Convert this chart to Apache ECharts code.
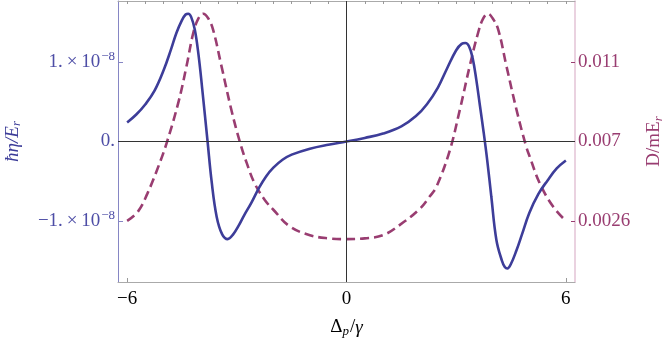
<!DOCTYPE html>
<html>
<head>
<meta charset="utf-8">
<script src="https://cdn.jsdelivr.net/npm/echarts@6/dist/echarts.min.js"></script>
<style>
  html, body { margin: 0; padding: 0; background: #fff; }
  #chart { width: 664px; height: 340px; }
</style>
</head>
<body>
<div id="chart"></div>
<script>
// eta (left axis)
const etaX = [-6.0, -5.75, -5.5, -5.25, -5.0, -4.8, -4.65, -4.5, -4.4, -4.33, -4.25, -4.15, -4.05, -3.95, -3.8, -3.69, -3.55, -3.4, -3.25, -3.1, -2.95, -2.8, -2.6, -2.4, -2.2, -2.0, -1.75, -1.5, -1.0, -0.5, 0,
  0.5, 1.0, 1.5, 1.9, 2.2, 2.5, 2.75, 3.0, 3.15, 3.25, 3.35, 3.45, 3.55, 3.65, 3.75, 3.85, 3.96, 4.1, 4.25, 4.33, 4.4, 4.5, 4.65, 4.8, 5.0, 5.25, 5.5, 5.75, 6.0];
const etaY = [0.24e-8, 0.34e-8, 0.47e-8, 0.64e-8, 0.90e-8, 1.16e-8, 1.37e-8, 1.53e-8, 1.60e-8, 1.61e-8, 1.57e-8, 1.41e-8, 1.10e-8, 0.68e-8, 0.0, -0.50e-8, -0.95e-8, -1.17e-8, -1.23e-8, -1.17e-8, -1.06e-8, -0.93e-8, -0.77e-8, -0.59e-8, -0.44e-8, -0.33e-8, -0.23e-8, -0.165e-8, -0.09e-8, -0.04e-8, 0,
  0.045e-8, 0.10e-8, 0.19e-8, 0.32e-8, 0.47e-8, 0.68e-8, 0.92e-8, 1.15e-8, 1.23e-8, 1.24e-8, 1.20e-8, 1.05e-8, 0.78e-8, 0.45e-8, 0.12e-8, -0.24e-8, -0.69e-8, -1.24e-8, -1.50e-8, -1.58e-8, -1.60e-8, -1.54e-8, -1.37e-8, -1.17e-8, -0.90e-8, -0.66e-8, -0.49e-8, -0.34e-8, -0.24e-8];

// D (right axis)
const dX = [-6.0, -5.7, -5.45, -5.15, -4.92, -4.6, -4.375, -4.19, -4.05, -3.92, -3.78, -3.65, -3.42, -3.15, -2.92, -2.73, -2.51, -2.23, -2.0, -1.55, -1.0, -0.5, 0,
  0.5, 1.0, 1.46, 2.0, 2.28, 2.46, 2.82, 3.1, 3.37, 3.6, 3.74, 3.87, 4.0, 4.15, 4.375, 4.65, 4.9, 5.01, 5.29, 5.65, 6.0];
const dY = [0.003, 0.00348, 0.00436, 0.00572, 0.00692, 0.00896, 0.0108, 0.01248, 0.0132, 0.01344, 0.0132, 0.01264, 0.0108, 0.0086, 0.007, 0.00592, 0.00488, 0.00404, 0.00356, 0.00272, 0.00228, 0.00212, 0.00208,
  0.00212, 0.00228, 0.0028, 0.0036, 0.00424, 0.00472, 0.00652, 0.0086, 0.0108, 0.01248, 0.0132, 0.01344, 0.0132, 0.01264, 0.0108, 0.0086, 0.00684, 0.00624, 0.00488, 0.00372, 0.003];

const xTicks = [-6, 0, 6];
const xMinorTicks = [-6, -5.5, -5, -4.5, -4, -3.5, -3, -2.5, -2, -1.5, -1, -0.5, 0, 0.5, 1, 1.5, 2, 2.5, 3, 3.5, 4, 4.5, 5, 5.5, 6];
const leftTicks = [-1e-8, 0, 1e-8];
const leftTickMant = ['\u22121.\u2009\u00d7\u200910', '0.', '1.\u2009\u00d7\u200910'];
const leftTickExp = ['\u22128', '', '\u22128'];
const rightTicks = [0.003, 0.007, 0.011];
const rightTickLabels = ['0.0026', '0.007', '0.011'];

const serif = 'Liberation Serif';
const blue = '#3d3d99';
const plum = '#993d71';

const chart = echarts.init(document.getElementById('chart'));

function pairs(xs, ys) {
  return xs.map((x, i) => [x, ys[i]]);
}

chart.setOption({
  animation: false,
  grid: { left: 118, right: 89, top: 1, bottom: 58, outerBoundsMode: 'none', containLabel: false },
  xAxis: [
    {
      type: 'value',
      min: -6.25,
      max: 6.25,
      name: '{d|\u0394}{s|p}{d|/}{i|\u03b3}',
      nameLocation: 'middle',
      nameGap: 36,
      nameTextStyle: {
        rich: {
          d: { fontFamily: serif, fontSize: 19, color: '#000' },
          i: { fontFamily: serif, fontSize: 19, fontStyle: 'italic', color: '#000' },
          s: { fontFamily: serif, fontSize: 13, fontStyle: 'italic', color: '#000', padding: [0, 1, -8, 0] }
        }
      },
      axisLine: { onZero: false, lineStyle: { color: '#aaaaaa', width: 1 } },
      axisTick: { inside: true, length: 4, customValues: xTicks, lineStyle: { color: '#999999' } },
      axisLabel: {
        customValues: xTicks,
        fontFamily: serif, fontSize: 19, color: '#000', margin: 8,
        formatter: v => String(v).replace('-', '\u2212')
      },
      splitLine: { show: false }
    },
    {
      type: 'value',
      position: 'top',
      min: -6.25,
      max: 6.25,
      axisLine: { onZero: false, lineStyle: { color: '#aaaaaa', width: 1 } },
      axisTick: { inside: true, length: 3, customValues: xMinorTicks, lineStyle: { color: '#999999' } },
      axisLabel: { show: false },
      splitLine: { show: false }
    }
  ],
  yAxis: [
    {
      type: 'value',
      min: -1.77e-8,
      max: 1.77e-8,
      name: '{i|\u0127\u03b7/E}{s|r}',
      nameLocation: 'middle',
      nameRotate: 90,
      nameGap: 96,
      nameTextStyle: {
        rich: {
          i: { fontFamily: serif, fontSize: 19, fontStyle: 'italic', color: blue },
          s: { fontFamily: serif, fontSize: 13, fontStyle: 'italic', color: blue, padding: [0, 0, -8, 0] }
        }
      },
      axisLine: { onZero: false, lineStyle: { color: '#8686c4', width: 1 } },
      axisTick: { inside: true, length: 5, customValues: leftTicks, lineStyle: { color: '#8686c4' } },
      axisLabel: {
        customValues: leftTicks,
        margin: 3,
        formatter: v => {
          const i = leftTicks.findIndex(t => Math.abs(t - v) < 1e-12);
          if (i < 0) return '';
          return leftTickExp[i] ? '{m|' + leftTickMant[i] + '}{e|' + leftTickExp[i] + '}' : '{m|' + leftTickMant[i] + '}';
        },
        rich: {
          m: { fontFamily: serif, fontSize: 19, color: '#4d4da6' },
          e: { fontFamily: serif, fontSize: 13, color: '#4d4da6', padding: [0, 0, 11, 1] }
        }
      },
      splitLine: { show: false }
    },
    {
      type: 'value',
      position: 'right',
      min: -0.00008,
      max: 0.01408,
      name: '{d|D/mE}{s|r}',
      nameLocation: 'middle',
      nameRotate: 90,
      nameGap: 70,
      nameTextStyle: {
        rich: {
          d: { fontFamily: serif, fontSize: 19, color: plum },
          s: { fontFamily: serif, fontSize: 13, fontStyle: 'italic', color: plum, padding: [0, 0, -8, 0] }
        }
      },
      axisLine: { onZero: false, lineStyle: { color: '#e3c3d6', width: 1.5 } },
      axisTick: { inside: true, length: 4, customValues: rightTicks, lineStyle: { color: plum } },
      axisLabel: {
        customValues: rightTicks,
        fontFamily: serif, fontSize: 19, color: plum, margin: 3,
        formatter: v => {
          const i = rightTicks.findIndex(t => Math.abs(t - v) < 1e-9);
          return i < 0 ? '' : rightTickLabels[i];
        }
      },
      splitLine: { show: false }
    }
  ],
  series: [
    {
      type: 'line',
      xAxisIndex: 0,
      yAxisIndex: 1,
      data: pairs(dX, dY),
      smooth: 0.4,
      showSymbol: false,
      lineStyle: { color: plum, width: 2.6, type: [9, 5] },
      z: 3
    },
    {
      type: 'line',
      xAxisIndex: 0,
      yAxisIndex: 0,
      data: pairs(etaX, etaY),
      smooth: 0.4,
      showSymbol: false,
      lineStyle: { color: blue, width: 2.6 },
      markLine: {
        silent: true,
        symbol: 'none',
        label: { show: false },
        lineStyle: { color: '#333333', width: 1, type: 'solid' },
        data: [{ yAxis: 0 }, { xAxis: 0 }]
      },
      z: 4
    }
  ]
});
</script>
</body>
</html>
